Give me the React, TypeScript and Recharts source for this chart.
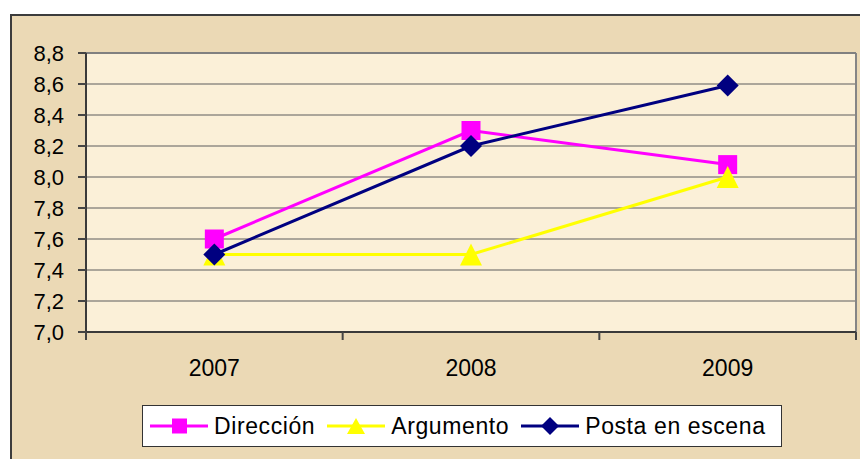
import {
  LineChart, Line, XAxis, YAxis, CartesianGrid, ReferenceLine,
} from "recharts";

// Values
const years = ["2007", "2008", "2009"];
const direccion = [7.6, 8.3, 8.08];
const argumento = [7.5, 7.5, 8.0];
const posta = [7.5, 8.2, 8.59];
const yTicks = [7.0, 7.2, 7.4, 7.6, 7.8, 8.0, 8.2, 8.4, 8.6, 8.8];
const xTicks = [0, 0.5, 1, 1.5, 2, 2.5, 3];

const FONT = '"Liberation Sans", Arial, sans-serif';
const PINK = "#ff00ff";
const YELLOW = "#ffff00";
const NAVY = "#000080";

// categories sit in the middle of each band, tick marks go on the band edges
const data = years.map((year, i) => ({
  x: i + 0.5,
  year,
  direccion: direccion[i],
  argumento: argumento[i],
  posta: posta[i],
}));

const square = (props: any) => {
  const { cx, cy, index } = props;
  return <rect key={`sq-${index}`} x={cx - 9.5} y={cy - 9.5} width={19} height={19} fill={PINK} />;
};

const triangle = (props: any) => {
  const { cx, cy, index } = props;
  return (
    <polygon
      key={`tr-${index}`}
      points={`${cx},${cy - 11} ${cx + 11},${cy + 11} ${cx - 11},${cy + 11}`}
      fill={YELLOW}
    />
  );
};

const diamond = (props: any) => {
  const { cx, cy, index } = props;
  return (
    <polygon
      key={`dm-${index}`}
      points={`${cx},${cy - 11} ${cx + 11},${cy} ${cx},${cy + 11} ${cx - 11},${cy}`}
      fill={NAVY}
    />
  );
};

const XTick = (props: any) => {
  const { x, y, payload } = props;
  const v = payload.value as number;
  if (Number.isInteger(v)) {
    return <line x1={x} x2={x} y1={y} y2={y + 8} stroke="#444" strokeWidth={2} />;
  }
  return (
    <text x={x} y={y + 44} textAnchor="middle" fontSize={23} fontFamily={FONT} fill="#000">
      {years[v - 0.5]}
    </text>
  );
};

function LegendIcon({ color, shape }: { color: string; shape: "square" | "triangle" | "diamond" }) {
  return (
    <svg width={58} height={20} style={{ display: "block" }}>
      <line x1={0} x2={58} y1={10} y2={10} stroke={color} strokeWidth={3} />
      {shape === "square" && <rect x={22} y={2.5} width={15} height={15} fill={color} />}
      {shape === "triangle" && <polygon points="29,2 38,18 20,18" fill={color} />}
      {shape === "diamond" && <polygon points="29,1 38,10 29,19 20,10" fill={color} />}
    </svg>
  );
}

const legendItems = [
  { label: "Dirección", color: PINK, shape: "square" as const },
  { label: "Argumento", color: YELLOW, shape: "triangle" as const },
  { label: "Posta en escena", color: NAVY, shape: "diamond" as const },
];

export default function App() {
  return (
    <div style={{ position: "fixed", inset: 0, overflow: "hidden", background: "#fff" }}>
      <div
        style={{
          position: "absolute",
          left: 10,
          top: 14,
          width: 870,
          height: 470,
          border: "2px solid #3c3c3c",
          background: "#ebd9b5",
        }}
      >
        <LineChart
          width={848}
          height={443}
          data={data}
          margin={{ top: 37, right: 4, bottom: 87, left: 0 }}
        >
          <CartesianGrid vertical={false} stroke="#5c5c5c" fill="#fbf0d8" fillOpacity={1} />
          <ReferenceLine x={3} stroke="#858585" strokeWidth={2} />
          <ReferenceLine y={8.8} stroke="#808080" strokeWidth={2} />
          <XAxis
            dataKey="x"
            type="number"
            domain={[0, 3]}
            ticks={xTicks}
            allowDecimals
            interval={0}
            height={40}
            tickLine={false}
            tickSize={0}
            tickMargin={0}
            axisLine={{ stroke: "#3a3a3a", strokeWidth: 2 }}
            tick={<XTick />}
          />
          <YAxis
            type="number"
            domain={[7, 8.8]}
            ticks={yTicks}
            interval={0}
            width={74}
            tickSize={8}
            tickMargin={14}
            axisLine={{ stroke: "#3a3a3a", strokeWidth: 2 }}
            tickLine={{ stroke: "#444", strokeWidth: 2 }}
            tick={{ fontSize: 22, fontFamily: FONT, fill: "#000" }}
            tickFormatter={(v: number) => v.toFixed(1).replace(".", ",")}
          />
          <Line
            dataKey="direccion"
            stroke={PINK}
            strokeWidth={3}
            dot={square}
            activeDot={false}
            isAnimationActive={false}
          />
          <Line
            dataKey="argumento"
            stroke={YELLOW}
            strokeWidth={3}
            dot={triangle}
            activeDot={false}
            isAnimationActive={false}
          />
          <Line
            dataKey="posta"
            stroke={NAVY}
            strokeWidth={3}
            dot={diamond}
            activeDot={false}
            isAnimationActive={false}
          />
        </LineChart>

        <div
          style={{
            position: "absolute",
            left: 130,
            top: 389,
            width: 631,
            height: 40,
            border: "1px solid #333",
            background: "#fff",
            display: "flex",
            alignItems: "center",
            paddingLeft: 7,
            boxSizing: "content-box",
            fontFamily: FONT,
            fontSize: 23,
            color: "#000",
          }}
        >
          {legendItems.map((it) => (
            <div key={it.label} style={{ display: "flex", alignItems: "center", marginRight: 12 }}>
              <LegendIcon color={it.color} shape={it.shape} />
              <span style={{ marginLeft: 6, letterSpacing: 0.6 }}>{it.label}</span>
            </div>
          ))}
        </div>
      </div>
    </div>
  );
}
